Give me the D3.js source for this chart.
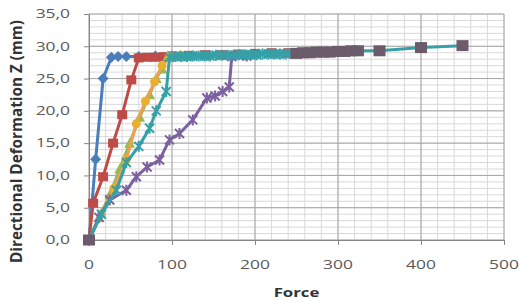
<!DOCTYPE html>
<html><head><meta charset="utf-8">
<script src="https://cdn.jsdelivr.net/npm/d3@7"></script>
<style>body{margin:0;background:#fff}svg{display:block}text{font-family:"Open Sans",sans-serif}</style>
</head><body><svg id="c" width="519" height="301"></svg>
<script>
// ---- data ----
const xTicks = [0, 100, 200, 300, 400, 500];
const yTicks = [0, 5, 10, 15, 20, 25, 30, 35];
const xTitle = "Force";
const yTitle = "Directional Deformation Z (mm)";

const blueX = [0, 8, 17, 27, 35, 45, 60, 80, 100];
const blueY = [0, 12.5, 25, 28.3, 28.4, 28.4, 28.4, 28.5, 28.5];
const redX = [0, 5, 17, 29, 40, 51, 60, 70, 80, 90, 100, 120, 140, 160, 180, 200, 220, 240];
const redY = [0, 5.7, 9.8, 15, 19.4, 24.8, 28.2, 28.3, 28.3, 28.4, 28.5, 28.6, 28.7, 28.7, 28.8, 28.9, 29.0, 29.0];
const greenX = [0, 12, 25, 37, 49, 61, 73, 81, 88, 95, 110];
const greenY = [0, 3.5, 7, 11, 15, 19, 22.5, 25, 26.5, 28.5, 28.6];
const orangeX = [0, 15, 30, 45, 57, 68, 79, 88, 98, 110];
const orangeY = [0, 4, 8, 12.5, 18, 21.5, 24.5, 27, 28.5, 28.6];
const purpleX = [0, 12, 25, 45, 57, 70, 85, 97, 109, 125, 142, 152, 161, 169, 172, 190];
const purpleY = [0, 3.5, 6.2, 7.7, 9.8, 11.3, 12.4, 15.5, 16.5, 18.6, 22, 22.3, 23, 23.7, 28.4, 28.5];
const aquaX = [0, 15, 33, 45, 60, 73, 81, 93, 97, 104, 111, 118, 125, 132, 139, 146, 153, 160, 167, 174, 181, 188, 195, 202, 209, 216, 223, 230, 237, 244];
const aquaY = [0, 4, 7.7, 12, 14.5, 17.3, 20, 23, 28.3, 28.4, 28.4, 28.4, 28.5, 28.5, 28.5, 28.5, 28.6, 28.6, 28.6, 28.6, 28.7, 28.7, 28.7, 28.7, 28.8, 28.8, 28.8, 28.8, 28.8, 28.9];
const grayX = [0, null, 250, 258, 266, 274, 282, 290, 300, 308, 316, 324, 350, 400, 450];
const grayY = [0, null, 28.9, 29.0, 29.0, 29.1, 29.1, 29.1, 29.2, 29.2, 29.3, 29.3, 29.3, 29.8, 30.1];

const series = [
  {xs: blueX, ys: blueY, line: "#4A7EBB", fill: "#4A7EBB", marker: "diamond"},
  {xs: redX, ys: redY, line: "#BE4B48", fill: "#BE4B48", marker: "square"},
  {xs: greenX, ys: greenY, line: "#98B954", fill: "#98B954", marker: "triangle"},
  {xs: orangeX, ys: orangeY, line: "#F0A050", fill: "#E8B030", marker: "circle"},
  {xs: purpleX, ys: purpleY, line: "#7D60A0", fill: "#7D60A0", marker: "star"},
  {xs: aquaX, ys: aquaY, line: "#35A0A8", fill: "#35A0A8", marker: "star"},
  {xs: grayX, ys: grayY, line: "#35A0A8", fill: "#6B5B6B", marker: "bigsquare"}
];

// ---- layout ----
const svg = d3.select("#c");
const L = 89, R = 504, T = 14, B = 240;
const x = d3.scaleLinear().domain([0, 500]).range([L, R]);
const y = d3.scaleLinear().domain([0, 35]).range([B, T]);
const SX = 1.45;

// minor grid
const g = svg.append("g");
g.selectAll(".mx").data(d3.range(0, 501, 20)).enter().append("line")
  .attr("x1", d => x(d)).attr("x2", d => x(d)).attr("y1", T).attr("y2", B)
  .attr("stroke", "#d9d9d9").attr("stroke-width", 1);
g.selectAll(".my").data(d3.range(0, 35.01, 1)).enter().append("line")
  .attr("y1", d => y(d)).attr("y2", d => y(d)).attr("x1", L).attr("x2", R)
  .attr("stroke", "#d9d9d9").attr("stroke-width", 1);
// major grid
g.selectAll(".Mx").data(xTicks).enter().append("line")
  .attr("x1", d => x(d)).attr("x2", d => x(d)).attr("y1", T).attr("y2", B)
  .attr("stroke", "#a6a6a6").attr("stroke-width", 1);
g.selectAll(".My").data(yTicks).enter().append("line")
  .attr("y1", d => y(d)).attr("y2", d => y(d)).attr("x1", L).attr("x2", R)
  .attr("stroke", "#a6a6a6").attr("stroke-width", 1);

// axes
const xa = svg.append("g").attr("transform", `translate(0,${B})`)
  .call(d3.axisBottom(x).tickValues(xTicks).tickSize(5).tickFormat(""));
const ya = svg.append("g").attr("transform", `translate(${L},0)`)
  .call(d3.axisLeft(y).tickValues(yTicks).tickSize(5).tickFormat(""));
[xa, ya].forEach(a => { a.selectAll("path,line").attr("stroke", "#868686"); });

const fmt = v => d3.format(".1f")(v).replace(".", ",");
svg.selectAll(".yl").data(yTicks).enter().append("text")
  .attr("transform", d => `translate(70,${y(d) + 4.3}) scale(${SX},1)`)
  .attr("text-anchor", "end").attr("font-size", 12).attr("fill", "#595959")
  .text(fmt);
svg.selectAll(".xl").data(xTicks).enter().append("text")
  .attr("transform", d => `translate(${x(d)},${268.5}) scale(${SX},1)`)
  .attr("text-anchor", "middle").attr("font-size", 12).attr("fill", "#595959")
  .text(d => d);

svg.append("text")
  .attr("transform", `translate(${(L + R) / 2},297) scale(1.4,1)`)
  .attr("text-anchor", "middle").attr("font-size", 12).attr("font-weight", "bold")
  .attr("fill", "#333").text(xTitle);
svg.append("text")
  .attr("transform", `translate(21.5,141.5) scale(1.35,1) rotate(-90)`)
  .attr("text-anchor", "middle").attr("font-size", 12).attr("font-weight", "bold")
  .attr("textLength", 243).attr("lengthAdjust", "spacingAndGlyphs")
  .attr("fill", "#333").text(yTitle);

// series
function marker(sel, type, color) {
  if (type === "diamond") {
    sel.append("path").attr("d", "M0,-5.5L5.5,0L0,5.5L-5.5,0Z").attr("fill", color);
  } else if (type === "square") {
    sel.append("rect").attr("x", -5).attr("y", -4.5).attr("width", 10).attr("height", 9).attr("fill", color);
  } else if (type === "bigsquare") {
    sel.append("rect").attr("x", -6).attr("y", -5.5).attr("width", 12).attr("height", 11).attr("fill", color);
  } else if (type === "triangle") {
    sel.append("path").attr("d", "M0,-5.5L5.5,4.5L-5.5,4.5Z").attr("fill", color);
  } else if (type === "circle") {
    sel.append("circle").attr("r", 4.5).attr("fill", color);
  } else if (type === "star") {
    sel.append("path").attr("d", "M-4.5,-4.5L4.5,4.5M-4.5,4.5L4.5,-4.5M0,-5.5L0,5.5")
      .attr("stroke", color).attr("stroke-width", 2).attr("fill", "none");
  }
}
const line = d3.line().defined(d => d[0] !== null).x(d => x(d[0])).y(d => y(d[1]));
series.forEach(s => {
  const pts = s.xs.map((v, i) => [v, s.ys[i]]);
  const sg = svg.append("g");
  sg.append("path").attr("d", line(pts)).attr("fill", "none")
    .attr("stroke", s.line).attr("stroke-width", 3).attr("stroke-linejoin", "round");
  sg.selectAll("g.m").data(pts.filter(d => d[0] !== null)).enter().append("g")
    .attr("transform", d => `translate(${x(d[0])},${y(d[1])})`)
    .each(function () { marker(d3.select(this), s.marker, s.fill); });
});
</script></body></html>
